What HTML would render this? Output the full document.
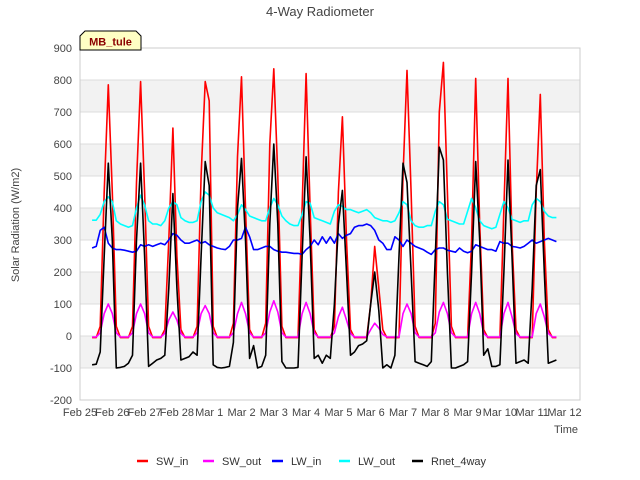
<!DOCTYPE html>
<html><head><meta charset="utf-8"><style>
body{margin:0;background:#fff;}
svg{display:block;font-family:"Liberation Sans","DejaVu Sans",sans-serif;}
</style></head><body>
<svg id="chart" width="640" height="480" viewBox="0 0 640 480">
<text x="320" y="16" text-anchor="middle" font-size="13" fill="#444">4-Way Radiometer</text>
<g id="plot"></g>
<text x="19" y="225" transform="rotate(-90 19 225)" text-anchor="middle" font-size="11" fill="#444">Solar Radiation (W/m2)</text>
<text x="566" y="433" text-anchor="middle" font-size="11" fill="#444">Time</text>
<g>
<path d="M80,50 L80,36 L85,31 L136,31 L141,36 L141,50 Z" fill="#ffffc4" stroke="#000" stroke-width="1"/>
<text x="110.5" y="45.5" text-anchor="middle" font-size="11" font-weight="bold" fill="#8b0000">MB_tule</text>
</g>
<g id="legend"></g>
</svg>
<script>
const yTicks=[-200,-100,0,100,200,300,400,500,600,700,800,900];
const xTickLabels=["Feb 25","Feb 26","Feb 27","Feb 28","Mar 1","Mar 2","Mar 3","Mar 4","Mar 5","Mar 6","Mar 7","Mar 8","Mar 9","Mar 10","Mar 11","Mar 12"];
const seriesNames=["SW_in","SW_out","LW_in","LW_out","Rnet_4way"];
const seriesColors=["#ff0000","#ff00ff","#0000ff","#00ffff","#000000"];
const tStart=0.375, tStep=0.125;
const swIn=[-5,-5,30,450,785,450,30,-5,
-5,-5,30,480,795,450,30,-5,
-5,-5,20,300,650,250,20,-5,
-5,-5,30,500,795,735,30,-5,
-5,-5,-5,40,560,810,400,20,
-5,-5,-5,40,600,835,500,30,
-5,-5,-5,-5,400,820,400,20,
-5,-5,-5,-5,30,450,685,300,
20,-5,-5,-5,-5,100,280,150,
20,-5,-5,-5,-5,500,830,450,
30,-5,-5,-5,-5,40,700,855,
450,30,-5,-5,-5,-5,300,805,
350,20,-5,-5,-5,-5,400,805,
300,20,-5,-5,-5,-5,450,755,
300,20,-5,-5];
const swOut=[-3,-3,10,70,100,70,10,-3,
-3,-3,10,70,100,70,10,-3,
-3,-3,8,50,75,50,8,-3,
-3,-3,10,70,95,70,10,-3,
-3,-3,-3,10,70,105,70,10,
-3,-3,-3,10,75,110,75,10,
-3,-3,-3,-3,70,105,70,10,
-3,-3,-3,-3,10,60,90,50,
8,-3,-3,-3,-3,20,40,25,
5,-3,-3,-3,-3,70,100,70,
10,-3,-3,-3,-3,10,75,105,
70,10,-3,-3,-3,-3,70,105,
70,8,-3,-3,-3,-3,70,105,
60,8,-3,-3,-3,-3,70,100,
60,8,-3,-3];
const lwIn=[275,280,330,340,290,275,270,270,
268,265,262,265,285,280,285,280,
285,290,285,300,320,315,300,290,
290,295,300,290,295,285,280,275,
272,270,280,300,300,305,340,310,
270,270,275,280,280,270,265,262,
262,260,258,258,255,270,280,300,
285,310,290,310,290,320,305,315,
320,340,345,345,350,345,330,300,
290,270,270,310,300,280,300,290,
280,275,270,262,255,270,275,275,
268,265,262,275,265,260,265,285,
280,275,270,270,265,295,290,290,
280,278,275,280,290,300,290,295,
300,305,300,295];
const lwOut=[362,362,380,420,435,420,360,350,
345,340,345,400,440,410,360,350,
350,345,360,400,420,410,370,360,
355,355,360,420,450,440,400,385,
380,375,370,360,380,410,395,375,
370,365,360,360,400,430,410,375,
360,350,345,345,380,420,415,370,
365,360,355,350,390,410,405,395,
395,390,385,390,395,385,370,365,
360,360,355,360,385,420,410,360,
345,340,340,345,345,390,420,410,
365,360,355,350,350,390,430,400,
360,345,340,335,340,380,420,400,
365,360,355,360,360,410,430,420,
390,375,370,370];
const rnet=[-90,-88,-50,250,540,300,-100,-98,
-95,-85,-60,300,540,250,-95,-85,
-75,-70,-60,150,445,150,-75,-70,
-65,-50,-60,250,545,470,-90,-98,
-100,-98,-95,-20,400,555,300,-70,
-30,-100,-95,-60,350,600,350,-80,
-100,-100,-100,-98,250,560,300,-70,
-60,-85,-60,-70,100,350,455,200,
-60,-50,-30,-25,-15,100,200,80,
-100,-90,-100,-60,250,540,480,200,
-80,-85,-90,-95,-80,250,590,550,
200,-100,-100,-95,-90,-80,200,545,
300,-60,-40,-95,-95,-90,200,550,
250,-85,-80,-75,-85,150,470,520,
200,-85,-80,-75];
const allSeries=[swIn,swOut,lwIn,lwOut,rnet];

const NS="http://www.w3.org/2000/svg";
const L=80,R=580,T=48,B=400;
const yMin=-200,yMax=900,pxPerDay=32.3;
function ys(v){return B-(v-yMin)/(yMax-yMin)*(B-T);}
function xs(t){return L+t*pxPerDay;}
function mk(tag,attrs,parent){const e=document.createElementNS(NS,tag);for(const k in attrs)e.setAttribute(k,attrs[k]);parent.appendChild(e);return e;}
const plot=document.getElementById('plot');
const bg=mk('rect',{x:L,y:T,width:R-L,height:B-T,fill:'#fff',stroke:'#ddd'},plot);


for(let i=0;i<yTicks.length-1;i++){
  const v=yTicks[i];
  if(((v/100)%2+2)%2===1){
    const band=mk('rect',{x:L,y:ys(v+100),width:R-L,height:ys(v)-ys(v+100),fill:'#f2f2f2'},plot);
    
    
  }
}
yTicks.forEach(v=>{
  const g=mk('line',{x1:L,x2:R,y1:ys(v),y2:ys(v),stroke:'#dcdcdc','stroke-width':1},plot);
  
  
  const t=mk('text',{x:L-8,y:ys(v)+4,'text-anchor':'end','font-size':11,fill:'#444'},plot);
  t.textContent=v;
  
  
});
mk('rect',{x:L,y:T,width:R-L,height:B-T,fill:'none',stroke:'#ccc'},plot);
xTickLabels.forEach((lab,i)=>{
  const t=mk('text',{x:xs(i),y:416,'text-anchor':'middle','font-size':11,fill:'#444'},plot);
  t.textContent=lab;
  
  
});
allSeries.forEach((arr,si)=>{
  const pts=arr.map((v,i)=>xs(tStart+i*tStep).toFixed(1)+','+ys(v).toFixed(1)).join(' ');
  const pl=mk('polyline',{points:pts,fill:'none',stroke:seriesColors[si],'stroke-width':1.6,'stroke-linejoin':'round'},plot);
  
  
});
const legend=document.getElementById('legend');
const legX=[137,203,272,339,412];
seriesNames.forEach((n,i)=>{
  const g=mk('g',{},legend);
  
  
  mk('line',{x1:legX[i],x2:legX[i]+11,y1:461,y2:461,stroke:seriesColors[i],'stroke-width':2.5},g);
  const t=mk('text',{x:legX[i]+19,y:465,'font-size':11,fill:'#333'},g);
  t.textContent=n;
});
</script>
</body></html>
